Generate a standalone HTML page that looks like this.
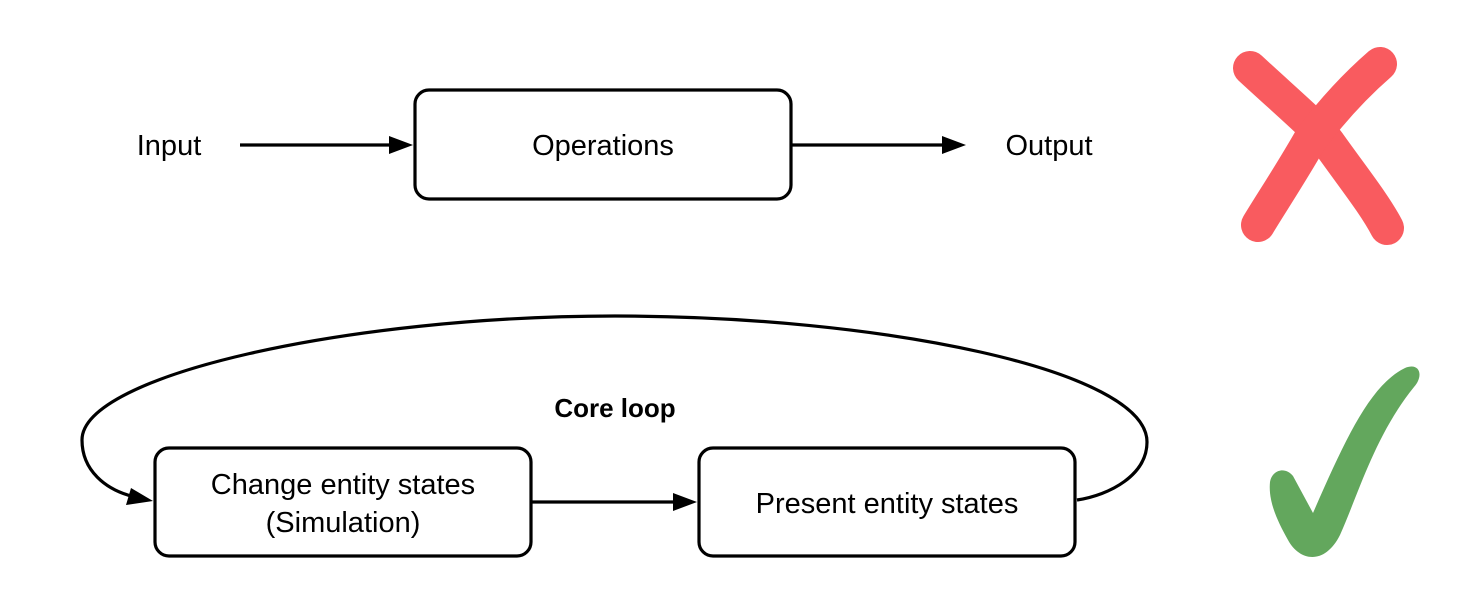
<!DOCTYPE html>
<html><head><meta charset="utf-8"><style>
html,body{margin:0;padding:0;background:#fff;}
svg{display:block;}
text{font-family:"Liberation Sans",sans-serif;fill:#000;}
</style></head><body>
<svg width="1465" height="605" viewBox="0 0 1465 605" xmlns="http://www.w3.org/2000/svg">
<g fill="none" stroke="#000" stroke-width="3.2">
<rect x="415" y="90" width="376" height="109" rx="14"/>
<rect x="155" y="448" width="376" height="108" rx="14"/>
<rect x="699" y="448" width="376" height="108" rx="14"/>
<line x1="240" y1="145" x2="392" y2="145"/>
<line x1="791" y1="145" x2="944" y2="145"/>
<line x1="531" y1="502" x2="676" y2="502"/>
<path d="M1077,500 C1110,495 1147,475 1147,442 C1147,370 880,316 615,316 C350,316 82,375 82,440 C82,470 105,490 135,497"/>
</g>
<g fill="#000">
<polygon points="413,145 389,136 389,154"/>
<polygon points="966,145 942,136 942,154"/>
<polygon points="697,502 673,493 673,511"/>
<polygon points="153,501 131,488 126,505"/>
</g>
<text x="169" y="155" font-size="29" text-anchor="middle">Input</text>
<text x="603" y="155" font-size="29" text-anchor="middle">Operations</text>
<text x="1049" y="155" font-size="29" text-anchor="middle">Output</text>
<text x="615" y="417" font-size="26" font-weight="bold" text-anchor="middle">Core loop</text>
<text x="343" y="494" font-size="29" text-anchor="middle">Change entity states</text>
<text x="343" y="532" font-size="29" text-anchor="middle">(Simulation)</text>
<text x="887" y="513" font-size="29" text-anchor="middle">Present entity states</text>
<g stroke="#f95b5f" stroke-width="34" stroke-linecap="round" fill="none">
<path d="M1250,68 C1290,105 1320,130 1330,145 C1355,180 1375,205 1387,228"/>
<path d="M1380,64 C1350,90 1325,120 1310,140 C1290,175 1270,205 1258,225"/>
</g>
<path fill="#63a75d" d="M1270,482 C1272,470 1285,466 1293,476 L1313,513 C1345,440 1370,385 1405,368 C1420,362 1424,376 1414,387 C1375,435 1358,495 1340,535 C1325,565 1300,562 1288,540 C1278,522 1268,502 1270,482 Z"/>
</svg>
</body></html>
